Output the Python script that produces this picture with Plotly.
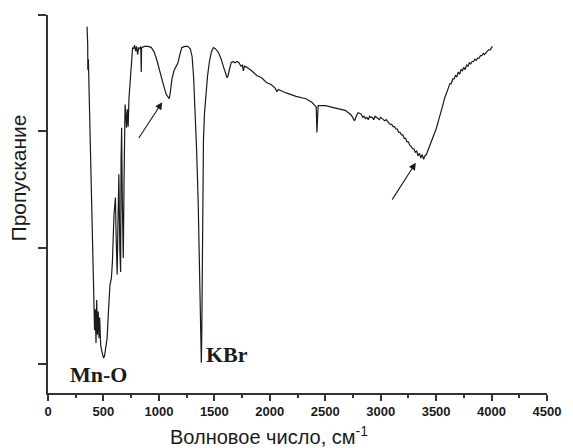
import plotly.graph_objects as go

# Wavenumber (cm^-1) and transmittance (arbitrary units)
wavenumber = [
    352, 358, 359, 364, 367, 391, 413, 420, 426, 433, 439, 446, 453, 460, 466, 475, 488, 501, 510, 519,
    533, 546, 559, 572, 581, 595, 608, 615, 624, 630, 639, 648, 655, 659, 664, 670, 679, 686, 695, 701,
    708, 715, 723, 730, 741, 754, 763, 772, 781, 790, 799, 808, 817, 830, 837, 841, 844, 870, 905, 932,
    959, 985, 1012, 1038, 1065, 1083, 1092, 1101, 1118, 1136, 1154, 1172, 1189, 1207, 1234, 1260, 1283, 1300, 1314, 1327,
    1340, 1354, 1362, 1371, 1378, 1383, 1387, 1394, 1398, 1402, 1411, 1425, 1438, 1456, 1473, 1491, 1509, 1536, 1562, 1584,
    1602, 1615, 1624, 1638, 1651, 1669, 1686, 1704, 1722, 1740, 1753, 1762, 1771, 1793, 1837, 1882, 1926, 1970, 2015, 2050,
    2064, 2077, 2148, 2237, 2326, 2379, 2405, 2419, 2425, 2429, 2436, 2450, 2503, 2592, 2681, 2734, 2752, 2765, 2779, 2796,
    2823, 2838,
    2850, 2862, 2876, 2888, 2900, 2912, 2925, 2937, 2950, 2962, 2975, 2987, 3000, 3012, 3025, 3037, 3050, 3062, 3075, 3087,
    3100, 3112, 3125, 3137, 3150, 3162, 3175, 3187, 3200, 3212, 3225, 3237, 3250, 3262, 3275, 3287, 3300, 3312, 3325, 3337,
    3350, 3362, 3375, 3387, 3400, 3412, 3425, 3437, 3450, 3462, 3475, 3487, 3500, 3512, 3525, 3537, 3550, 3562, 3575, 3587,
    3600, 3612, 3625, 3637, 3650, 3662, 3675, 3687, 3700, 3712, 3725, 3737, 3750, 3762, 3775, 3787, 3800, 3812, 3825, 3837,
    3850, 3862, 3875, 3887, 3900, 3912, 3925, 3937, 3950, 3962, 3975, 3987, 4000, 4007,
]
transmittance = [
    2.90, 2.75, 2.53, 2.62, 2.50, 1.41, 0.55, 0.29, 0.47, 0.18, 0.55, 0.25, 0.45, 0.22, 0.40, 0.16, 0.10, 0.05, 0.07, 0.12,
    0.22, 0.47, 0.68, 0.74, 0.88, 1.28, 1.43, 1.07, 0.77, 1.16, 1.63, 0.98, 0.79, 1.76, 2.03, 1.41, 0.91, 1.59, 2.23, 2.15,
    2.03, 2.19, 2.04, 2.28, 2.45, 2.66, 2.72, 2.71, 2.74, 2.69, 2.73, 2.66, 2.72, 2.71, 2.73, 2.51, 2.72, 2.73, 2.73, 2.72,
    2.68, 2.60, 2.49, 2.41, 2.32, 2.30, 2.28, 2.32, 2.45, 2.52, 2.55, 2.59, 2.66, 2.72, 2.73, 2.73, 2.71, 2.64, 2.45, 2.19,
    1.84, 1.41, 1.07, 0.79, 0.38, 0.01, 0.29, 1.59, 1.89, 1.93, 2.15, 2.36, 2.47, 2.60, 2.68, 2.72, 2.71, 2.68, 2.62, 2.55,
    2.49, 2.46, 2.48, 2.55, 2.59, 2.60, 2.59, 2.60, 2.59, 2.56, 2.57, 2.52, 2.56, 2.55, 2.52, 2.48, 2.46, 2.42, 2.40, 2.37,
    2.34, 2.36, 2.33, 2.30, 2.28, 2.25, 2.22, 2.21, 1.99, 2.10, 2.22, 2.22, 2.22, 2.20, 2.18, 2.14, 2.11, 2.09, 2.13, 2.16,
    2.15, 2.12,
    2.13, 2.11, 2.12, 2.10, 2.13, 2.12, 2.12, 2.10, 2.13, 2.12, 2.11, 2.10, 2.12, 2.11, 2.10, 2.09, 2.10, 2.08, 2.07, 2.06,
    2.06, 2.04, 2.04, 2.02, 2.02, 1.99, 1.99, 1.97, 1.97, 1.94, 1.94, 1.91, 1.91, 1.88, 1.87, 1.85, 1.85, 1.82, 1.83, 1.79,
    1.81, 1.77, 1.80, 1.76, 1.79, 1.80, 1.83, 1.86, 1.89, 1.92, 1.95, 1.98, 2.02, 2.06, 2.10, 2.14, 2.19, 2.23, 2.28, 2.31,
    2.35, 2.38, 2.41, 2.41, 2.45, 2.45, 2.48, 2.47, 2.51, 2.49, 2.53, 2.52, 2.55, 2.53, 2.57, 2.56, 2.59, 2.58, 2.60, 2.60,
    2.62, 2.61, 2.63, 2.63, 2.65, 2.65, 2.67, 2.66, 2.68, 2.69, 2.70, 2.70, 2.72, 2.73,
]

x_ticks = [0, 500, 1000, 1500, 2000, 2500, 3000, 3500, 4000, 4500]
y_ticks = [0, 1, 2, 3]

# Annotations: (label, wavenumber, transmittance)
labels = [("Mn-O", 453, -0.09), ("KBr", 1410, 0.08)]
# Arrows: (tail_wn, tail_T, head_wn, head_T)
arrows = [(810, 1.93, 1030, 2.25), (3095, 1.40, 3317, 1.73)]

X_TITLE = "Волновое число, см<sup>-1</sup>"
Y_TITLE = "Пропускание"

fig = go.Figure()
fig.add_trace(go.Scatter(
    x=wavenumber, y=transmittance, mode="lines",
    line=dict(color="#1a1a1a", width=1.2), showlegend=False, hoverinfo="skip",
))

for text, xv, yv in labels:
    fig.add_annotation(
        x=xv, y=yv, text="<b>" + text + "</b>", showarrow=False,
        xanchor="center" if text == "Mn-O" else "left", yanchor="middle",
        font=dict(family="Liberation Serif", size=22, color="#1a1a1a"),
    )

for tx, ty, hx, hy in arrows:
    fig.add_annotation(
        x=hx, y=hy, ax=tx, ay=ty, xref="x", yref="y", axref="x", ayref="y",
        showarrow=True, arrowhead=2, arrowsize=1.3, arrowwidth=1.1, arrowcolor="#1a1a1a", text="",
    )

# plot area in pixels: x 48..555, y 15..393
def px_to_paper(px, py):
    return (px - 48) / 507, (393 - py) / 378

xt_x, xt_y = px_to_paper(273, 435)
fig.add_annotation(
    x=xt_x, y=xt_y, xref="paper", yref="paper", text=X_TITLE,
    showarrow=False, xanchor="center", yanchor="middle",
    font=dict(family="Liberation Sans", size=20, color="#1a1a1a"),
)
yt_x, yt_y = px_to_paper(19, 178)
fig.add_annotation(
    x=yt_x, y=yt_y, xref="paper", yref="paper", text=Y_TITLE, textangle=-90,
    showarrow=False, xanchor="center", yanchor="middle",
    font=dict(family="Liberation Sans", size=21, color="#1a1a1a"),
)

fig.update_layout(
    width=573, height=448,
    margin=dict(l=48, r=18, t=15, b=55),
    paper_bgcolor="white", plot_bgcolor="white",
    font=dict(family="Liberation Sans", color="#1a1a1a"),
    xaxis=dict(
        range=[0, 4500], tickvals=x_ticks, ticktext=["<b>" + str(v) + "</b>" for v in x_ticks],
        showgrid=False, zeroline=False, showline=True, linecolor="#333333", linewidth=1.5,
        ticks="outside", ticklen=6, tickwidth=1.5, tickcolor="#333333",
        minor=dict(dtick=250, tick0=0, ticks="outside", ticklen=3, tickwidth=1.5, tickcolor="#333333", showgrid=False),
        tickfont=dict(family="Liberation Sans", size=13),
    ),
    yaxis=dict(
        range=[-0.25, 3.0], tickvals=y_ticks, showticklabels=False,
        showgrid=False, zeroline=False, showline=True, linecolor="#333333", linewidth=1.5,
        ticks="outside", ticklen=8, tickwidth=1.5, tickcolor="#333333",
    ),
)

fig.write_html("out.html")
